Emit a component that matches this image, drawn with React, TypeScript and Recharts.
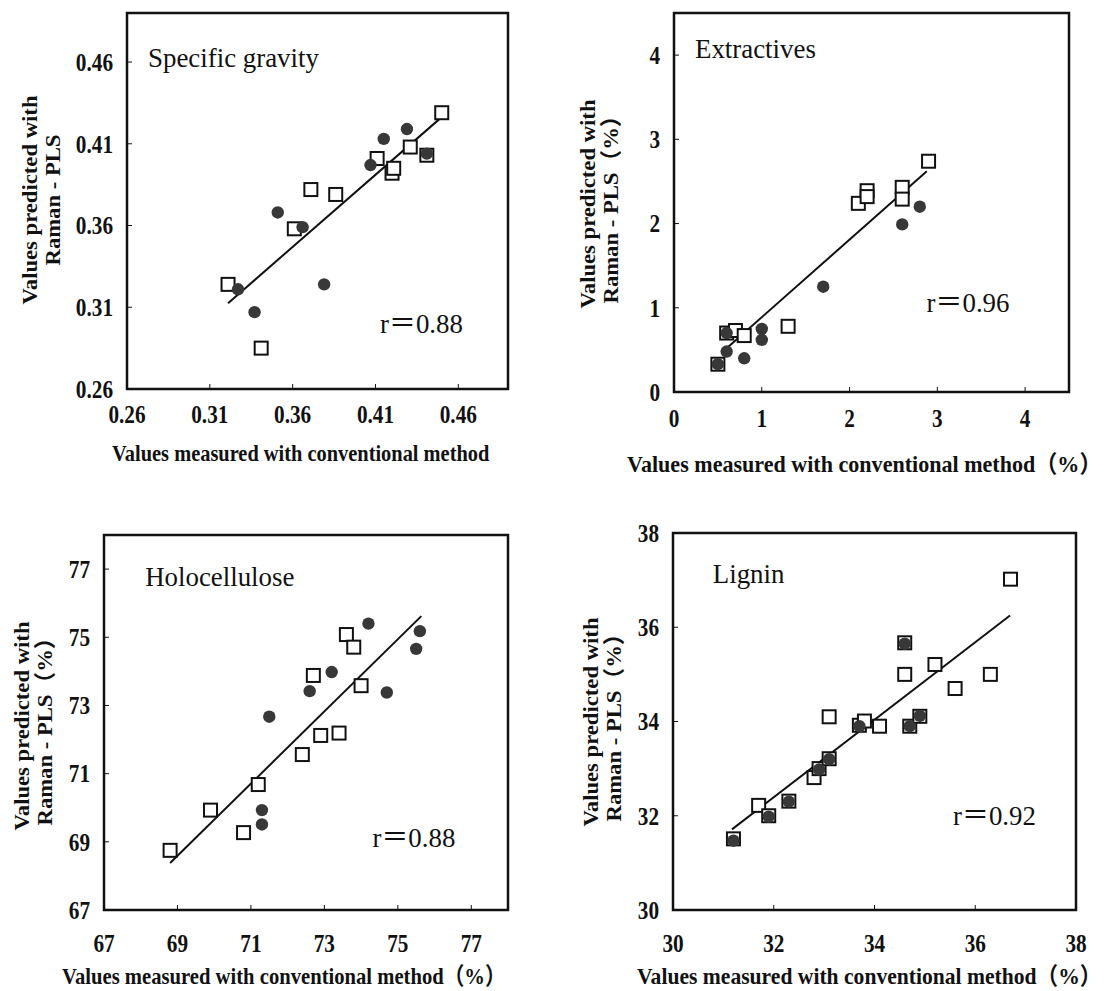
import React from "react";
import {
  ScatterChart,
  Scatter,
  XAxis,
  YAxis,
  ReferenceArea,
  ReferenceLine,
  ReferenceDot,
} from "recharts";

const PAGE_W = 1114;
const PAGE_H = 991;
const SERIF = '"Liberation Serif", "Times New Roman", "Noto Sans CJK JP", serif';
const INK = "#111";

// ---- Specific gravity (open squares / filled circles) ----
const sgOpenMeasured = [0.321, 0.341, 0.361, 0.371, 0.386, 0.411, 0.42, 0.421, 0.431, 0.441, 0.45];
const sgOpenPredicted = [0.324, 0.285, 0.358, 0.382, 0.379, 0.401, 0.392, 0.395, 0.408, 0.403, 0.429];
const sgFilledMeasured = [0.327, 0.337, 0.351, 0.366, 0.379, 0.407, 0.415, 0.429, 0.441];
const sgFilledPredicted = [0.321, 0.307, 0.368, 0.359, 0.324, 0.397, 0.413, 0.419, 0.404];
const sgFit = [[0.321, 0.3125], [0.4496, 0.426]];
const sgTicks = [0.26, 0.31, 0.36, 0.41, 0.46];

// ---- Extractives ----
const exOpenMeasured = [0.5, 0.6, 0.7, 0.8, 1.3, 2.1, 2.2, 2.2, 2.6, 2.6, 2.9];
const exOpenPredicted = [0.33, 0.7, 0.73, 0.67, 0.78, 2.24, 2.39, 2.32, 2.43, 2.29, 2.74];
const exFilledMeasured = [0.5, 0.6, 0.6, 0.8, 1.0, 1.0, 1.7, 2.6, 2.8];
const exFilledPredicted = [0.33, 0.7, 0.48, 0.4, 0.75, 0.62, 1.25, 1.99, 2.2];
const exFit = [[0.6, 0.52], [2.88, 2.62]];
const exTicks = [0, 1, 2, 3, 4];

// ---- Holocellulose ----
const hoOpenMeasured = [68.8, 69.9, 70.8, 71.2, 72.4, 72.9, 73.4, 72.7, 74.0, 73.6, 73.8];
const hoOpenPredicted = [68.75, 69.93, 69.27, 70.68, 71.56, 72.12, 72.19, 73.88, 73.58, 75.08, 74.71];
const hoFilledMeasured = [71.3, 71.3, 71.5, 72.6, 73.2, 74.2, 74.7, 75.5, 75.6];
const hoFilledPredicted = [69.93, 69.51, 72.67, 73.42, 73.98, 75.4, 73.38, 74.66, 75.18];
const hoFit = [[68.8, 68.38], [75.64, 75.62]];
const hoTicks = [67, 69, 71, 73, 75, 77];

// ---- Lignin ----
const liOpenMeasured = [31.2, 31.7, 31.9, 32.3, 32.8, 32.9, 33.1, 33.1, 33.7, 33.8, 34.1, 34.6, 34.6, 34.7, 34.9, 35.2, 35.6, 36.3, 36.7];
const liOpenPredicted = [31.51, 32.22, 32.0, 32.31, 32.81, 33.0, 33.21, 34.1, 33.92, 34.01, 33.9, 35.67, 35.0, 33.9, 34.11, 35.21, 34.7, 35.0, 37.02];
const liFilledMeasured = [31.2, 31.9, 32.3, 32.9, 33.1, 33.7, 34.6, 34.7, 34.9];
const liFilledPredicted = [31.47, 31.98, 32.3, 32.98, 33.2, 33.9, 35.65, 33.9, 34.12];
const liFit = [[31.17, 31.71], [36.69, 36.25]];
const liTicks = [30, 32, 34, 36, 38];

const zip = (xs: number[], ys: number[]) => xs.map((x, i) => ({ x, y: ys[i] }));

const X_TITLE = "Values measured with conventional method";

// layout of each panel in page pixels (plot box edges) + where texts go
const panels = [
  {
    key: "sg",
    box: { L: 127, T: 13, R: 508, B: 389 },
    domain: [0.26, 0.49],
    ticks: sgTicks,
    decimals: 2,
    open: zip(sgOpenMeasured, sgOpenPredicted),
    filled: zip(sgFilledMeasured, sgFilledPredicted),
    fit: sgFit,
    name: "Specific gravity",
    nameAt: [0.2727, 0.4567],
    r: "r＝0.88",
    rAt: [0.4128, 0.2943],
    xTickGap: 25,
    yTitle: { lines: ["Values predicted with", "Raman - PLS"], xs: [29, 52], cy: 200 },
    xTitle: { text: X_TITLE, x: 112, y: 461, sx: 0.85 },
  },
  {
    key: "ex",
    box: { L: 674, T: 13, R: 1069, B: 392 },
    domain: [0, 4.5],
    ticks: exTicks,
    decimals: 0,
    open: zip(exOpenMeasured, exOpenPredicted),
    filled: zip(exFilledMeasured, exFilledPredicted),
    fit: exFit,
    name: "Extractives",
    nameAt: [0.239, 3.96],
    r: "r＝0.96",
    rAt: [2.878, 0.946],
    xTickGap: 26,
    yTitle: { lines: ["Values predicted with", "Raman - PLS（%）"], xs: [587, 610], cy: 204 },
    xTitle: { text: X_TITLE + "（%）", x: 627, y: 472, sx: 0.92 },
  },
  {
    key: "ho",
    box: { L: 104, T: 535, R: 508, B: 910 },
    domain: [67, 78],
    ticks: hoTicks,
    decimals: 0,
    open: zip(hoOpenMeasured, hoOpenPredicted),
    filled: zip(hoFilledMeasured, hoFilledPredicted),
    fit: hoFit,
    name: "Holocellulose",
    nameAt: [68.12, 76.49],
    r: "r＝0.88",
    rAt: [74.31, 68.86],
    xTickGap: 33,
    yTitle: { lines: ["Values predicted with", "Raman - PLS（%）"], xs: [21, 44], cy: 726 },
    xTitle: { text: X_TITLE + "（%）", x: 62, y: 984, sx: 0.86 },
  },
  {
    key: "li",
    box: { L: 673, T: 533, R: 1076, B: 910 },
    domain: [30, 38],
    ticks: liTicks,
    decimals: 0,
    open: zip(liOpenMeasured, liOpenPredicted),
    filled: zip(liFilledMeasured, liFilledPredicted),
    fit: liFit,
    name: "Lignin",
    nameAt: [30.79, 36.94],
    r: "r＝0.92",
    rAt: [35.56, 31.8],
    xTickGap: 33,
    yTitle: { lines: ["Values predicted with", "Raman - PLS（%）"], xs: [590, 613], cy: 722 },
    xTitle: { text: X_TITLE + "（%）", x: 637, y: 984, sx: 0.9 },
  },
];

// the scan squeezes the lettering sideways, so text gets a horizontal scale
function SerifText({ x, y, text, size, sx = 1, anchor = "start", rotate = 0, bold = false, dy = "0" }: any) {
  return (
    <text
      transform={`translate(${x},${y}) rotate(${rotate}) scale(${sx},1)`}
      textAnchor={anchor}
      dy={dy}
      fontFamily={SERIF}
      fontSize={size}
      fontWeight={bold ? 700 : 400}
      fill={INK}
    >
      {text}
    </text>
  );
}

function AxisTick(props: any) {
  const { x, y, payload, axis, decimals } = props;
  return (
    <SerifText
      x={x}
      y={y}
      text={Number(payload.value).toFixed(decimals)}
      size={25}
      sx={0.85}
      anchor={axis === "y" ? "end" : "middle"}
      bold
      dy="0.35em"
    />
  );
}

function XTitle({ cfg }: any) {
  return <SerifText x={cfg.x} y={cfg.y} text={cfg.text} size={24} sx={cfg.sx} bold />;
}

function YTitle({ cfg }: any) {
  return (
    <g>
      {cfg.lines.map((t: string, i: number) => (
        <SerifText key={i} x={cfg.xs[i]} y={cfg.cy} text={t} size={22} sx={1.03} anchor="middle" rotate={-90} bold dy="0.35em" />
      ))}
    </g>
  );
}

function Note({ viewBox, text }: any) {
  if (!viewBox) return null;
  return <SerifText x={viewBox.x} y={viewBox.y} text={text} size={28} sx={0.96} />;
}

const OpenSquare = (p: any) => (
  <rect x={p.cx - 6.5} y={p.cy - 6.5} width={13} height={13} fill="#fff" stroke={INK} strokeWidth={2} />
);
const FilledDot = (p: any) => <circle cx={p.cx} cy={p.cy} r={6.2} fill="#383838" />;

const Y_AXIS_W = 80;
const X_AXIS_H = 60;

function Panel({ p }: any) {
  const { L, T, R, B } = p.box;
  const [d0, d1] = p.domain;
  return (
    <div style={{ position: "absolute", left: 0, top: 0 }}>
      <ScatterChart
        width={PAGE_W}
        height={PAGE_H}
        margin={{ top: T, right: PAGE_W - R, bottom: PAGE_H - B - X_AXIS_H, left: L - Y_AXIS_W }}
      >
        <XAxis
          type="number"
          dataKey="x"
          domain={p.domain}
          ticks={p.ticks}
          interval={0}
          allowDataOverflow
          height={X_AXIS_H}
          axisLine={false}
          tickSize={-5}
          tickMargin={p.xTickGap + 5}
          tickLine={{ stroke: INK, strokeWidth: 1 }}
          tick={<AxisTick axis="x" decimals={p.decimals} />}
          label={<XTitle cfg={p.xTitle} />}
        />
        <YAxis
          type="number"
          dataKey="y"
          domain={p.domain}
          ticks={p.ticks}
          interval={0}
          allowDataOverflow
          width={Y_AXIS_W}
          axisLine={false}
          tickSize={-5}
          tickMargin={19}
          tickLine={{ stroke: INK, strokeWidth: 1 }}
          tick={<AxisTick axis="y" decimals={p.decimals} />}
          label={<YTitle cfg={p.yTitle} />}
        />
        <ReferenceArea
          x1={d0}
          x2={d1}
          y1={d0}
          y2={d1}
          fill="none"
          fillOpacity={0}
          stroke={INK}
          strokeWidth={2.5}
          ifOverflow="visible"
        />
        <ReferenceLine
          segment={[
            { x: p.fit[0][0], y: p.fit[0][1] },
            { x: p.fit[1][0], y: p.fit[1][1] },
          ]}
          stroke={INK}
          strokeWidth={2}
          ifOverflow="visible"
        />
        <Scatter data={p.open} shape={OpenSquare} isAnimationActive={false} />
        <Scatter data={p.filled} shape={FilledDot} isAnimationActive={false} />
        <ReferenceDot x={p.nameAt[0]} y={p.nameAt[1]} r={0} fill="none" stroke="none" label={<Note text={p.name} />} />
        <ReferenceDot x={p.rAt[0]} y={p.rAt[1]} r={0} fill="none" stroke="none" label={<Note text={p.r} />} />
      </ScatterChart>
    </div>
  );
}

export default function App() {
  return (
    <div style={{ position: "absolute", left: 0, top: 0, width: PAGE_W, height: PAGE_H, background: "#fff" }}>
      {panels.map((p) => (
        <Panel key={p.key} p={p} />
      ))}
    </div>
  );
}
